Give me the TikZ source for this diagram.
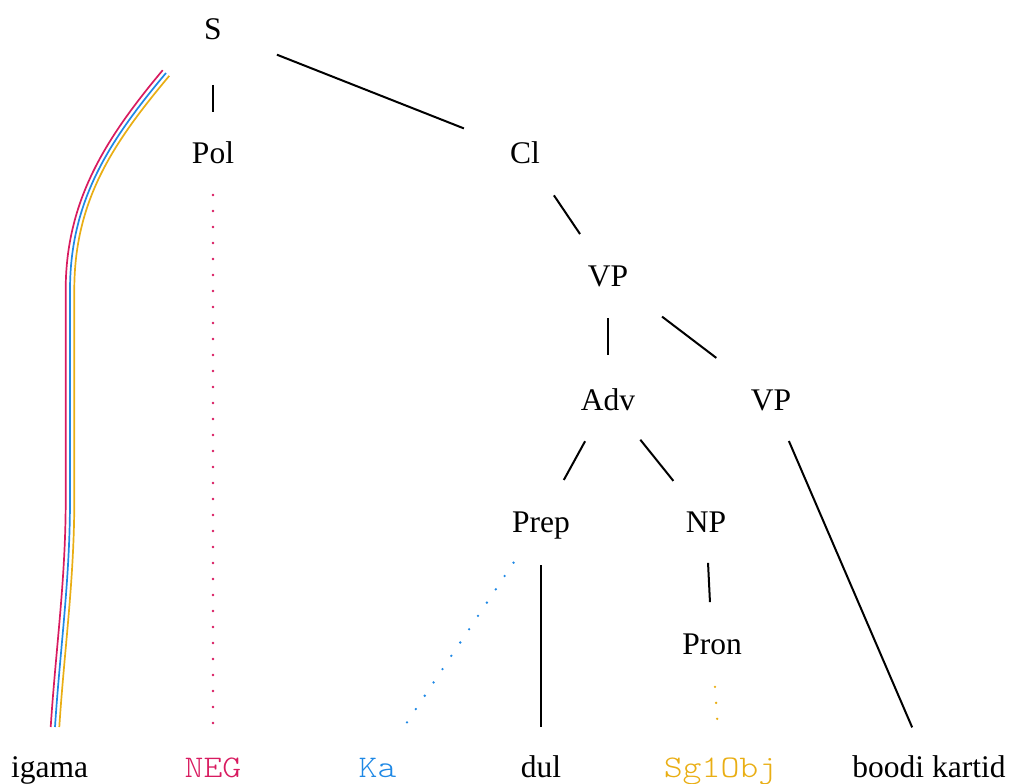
\documentclass[tikz,border=0pt]{standalone}
\usepackage{fontspec}
\setmainfont{Liberation Serif}
\newfontfamily\courfont[FakeStretch=1.143]{Latin Modern Mono Light}
\definecolor{cpink}{HTML}{D81B60}
\definecolor{cblue}{HTML}{1E88E5}
\definecolor{cgold}{HTML}{E9AE14}
\tikzset{
  lbl/.style={inner sep=0pt, text height=21pt, text depth=0pt, font=\fontsize{31.5}{36}\selectfont},
  mono/.style={lbl, font=\fontsize{31.5}{36}\selectfont\courfont},
  edge/.style={line width=2pt, black},
  dotline/.style={line width=2.6pt, dash pattern=on 0pt off 16pt, line cap=round},
  strand/.style={line width=1.7pt}
}
\begin{document}
\begin{tikzpicture}[x=1pt,y=-1pt]
\useasboundingbox (0,0) rectangle (1010,784);
% tree nodes
\node[lbl] (S) at (213,29.5) {S};
\node[lbl] (Pol) at (213,152.5) {Pol};
\node[lbl] (Cl) at (525,152.5) {Cl};
\node[lbl] (VP) at (608,275.5) {VP};
\node[lbl] (Adv) at (608,399.5) {Adv};
\node[lbl] (VPb) at (771,399.5) {VP};
\node[lbl] (Prep) at (541,521.5) {Prep};
\node[lbl] (NP) at (706,521.5) {NP};
\node[lbl] (Pron) at (712,643.5) {Pron};
% leaves
\node[lbl] (igama) at (49.5,766.5) {igama};
\node[mono, text=cpink] (NEG) at (213,766.5) {NEG};
\node[mono, text=cblue] (Ka) at (377.5,766.5) {Ka};
\node[lbl] (dul) at (541,766.5) {dul};
\node[mono, text=cgold] (Sg) at (720.5,766.5) {Sg1Obj};
\node[lbl] (boodi) at (929,766.5) {boodi kartid};
% edges
\draw[edge, shorten <=55.5pt, shorten >=40.5pt] (S.center) -- (Pol.center);
\draw[edge, shorten <=68.7pt, shorten >=65.7pt] (S.center) -- (Cl.center);
\draw[edge, shorten <=51.7pt, shorten >=50pt] (Cl.center) -- (VP.center);
\draw[edge, shorten <=42.5pt, shorten >=44.5pt] (VP.center) -- (Adv.center);
\draw[edge, shorten <=67.9pt, shorten >=68.7pt] (VP.center) -- (VPb.center);
\draw[edge, shorten <=47.6pt, shorten >=47.4pt] (Adv.center) -- (Prep.center);
\draw[edge, shorten <=51.6pt, shorten >=52.1pt] (Adv.center) -- (NP.center);
\draw[edge, shorten <=43.5pt, shorten >=39.5pt] (Prep.center) -- (dul.center);
\draw[edge, shorten <=41.5pt, shorten >=41.5pt] (NP.center) -- (Pron.center);
\draw[edge, shorten <=45.2pt, shorten >=42.6pt] (VPb.center) -- (boodi.center);
% dotted links
\draw[dotline, cpink, shorten <=42.5pt, shorten >=42pt] (Pol.center) -- (NEG.center);
\draw[dotline, cblue, shorten <=49.5pt, shorten >=52.8pt] (Prep.center) -- (Ka.center);
\draw[dotline, cgold, shorten <=43.5pt, shorten >=47pt] (Pron.center) -- (Sg.center);
% triple strand from S to igama
\coordinate (tp1) at (162.7,70.2);
\coordinate (tp2) at (50.7,727);
\coordinate (tb1) at (166,73);
\coordinate (tb2) at (55,727);
\coordinate (tg1) at (169.3,75.8);
\coordinate (tg2) at (59.3,727);
\draw[strand, cpink] (tp1) .. controls (106.7,137.2) and (65.7,200) .. (65.7,290)
  -- (65.7,500) .. controls (65.7,580) and (55.7,650) .. (tp2);
\draw[strand, cblue] (tb1) .. controls (110,140) and (70,200) .. (70,290)
  -- (70,500) .. controls (70,580) and (60,650) .. (tb2);
\draw[strand, cgold] (tg1) .. controls (113.3,142.8) and (74.3,200) .. (74.3,290)
  -- (74.3,500) .. controls (74.3,580) and (64.3,650) .. (tg2);
\end{tikzpicture}
\end{document}
